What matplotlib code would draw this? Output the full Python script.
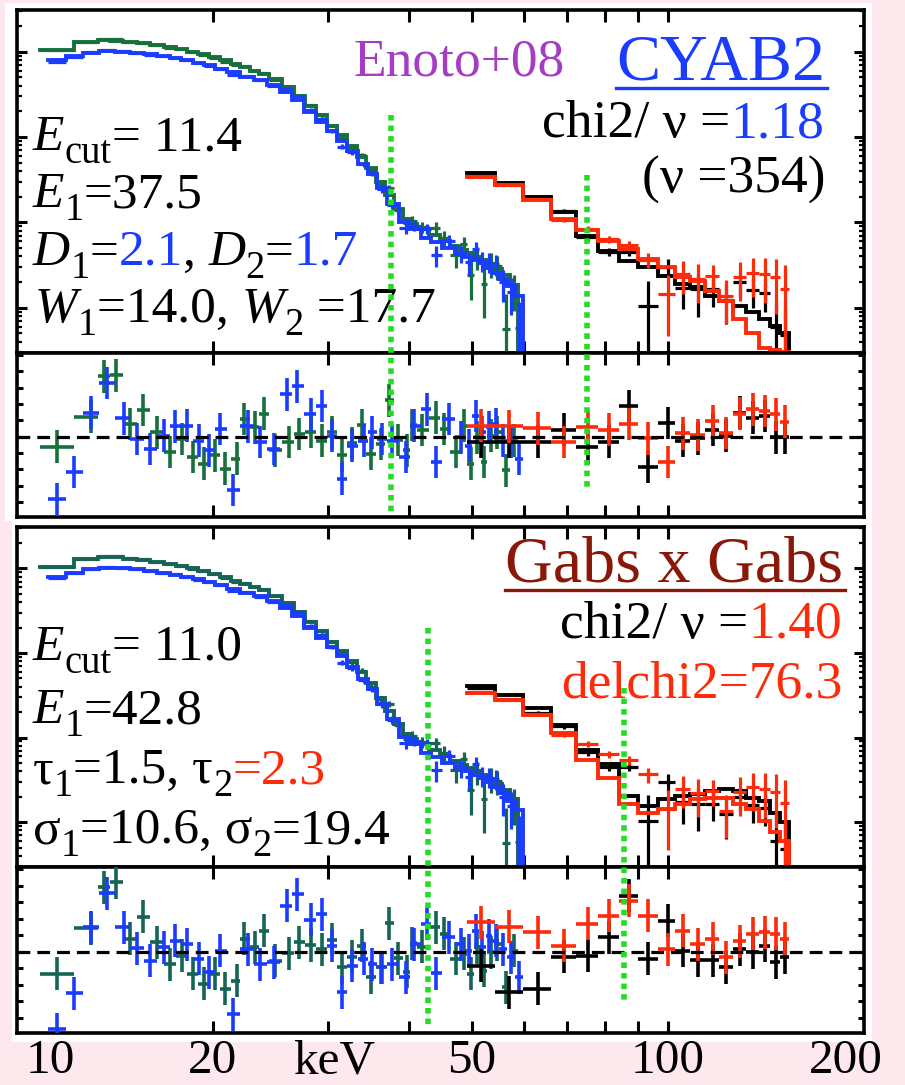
import numpy as np
import matplotlib
matplotlib.use("Agg")
import matplotlib.pyplot as plt
from matplotlib.lines import Line2D
from matplotlib.patches import Rectangle
from matplotlib.ticker import FixedLocator, NullLocator, NullFormatter, LogLocator, MultipleLocator
import matplotlib.transforms as mtransforms

plt.rcParams['font.family'] = ['Liberation Serif', 'DejaVu Serif']

# ---------------- data (energies in keV, model values as log10 counts) ----------------
pin_blue_E = [11.51, 12.25, 13.00, 13.74, 14.58, 15.28, 16.02, 16.80, 17.51, 18.24,
              19.01, 19.74, 20.53, 21.47, 22.62, 23.60, 24.80, 26.00, 26.94, 28.24,
              29.43, 30.50, 31.59, 32.73, 34.10, 35.13, 36.40, 37.71, 39.54, 40.72,
              42.68, 43.96, 46.08, 48.03, 49.47, 50.66, 51.88, 53.11, 54.38, 55.69,
              57.35, 59.06]
pin_blue_model = [0.90, 0.95, 0.99, 1.005, 1.00, 0.99, 0.97, 0.95, 0.925, 0.90,
                  0.87, 0.84, 0.80, 0.76, 0.71, 0.67, 0.61, 0.53, 0.44, 0.30,
                  0.18, 0.07, -0.04, -0.16, -0.31, -0.43, -0.60, -0.78, -0.99, -1.08,
                  -1.18, -1.23, -1.30, -1.36, -1.40, -1.44, -1.48, -1.53, -1.59, -1.66,
                  -1.75, -1.86]
pin_blue_ferr = [0.010, 0.010, 0.010, 0.010, 0.011, 0.011, 0.012, 0.012, 0.013, 0.014,
                 0.015, 0.016, 0.017, 0.019, 0.021, 0.023, 0.026, 0.030, 0.034, 0.040,
                 0.046, 0.052, 0.060, 0.068, 0.076, 0.085, 0.095, 0.11, 0.13, 0.15,
                 0.17, 0.19, 0.21, 0.23, 0.25, 0.27, 0.29, 0.31, 0.34, 0.37,
                 0.40, 0.43]
res_top_blue = [-3.84, -2.16, 1.47, 3.29, 1.13, -0.14, -0.75, 0.06, 0.63, 0.67,
                -0.24, -0.85, 0.46, -3.27, 0.63, -0.34, -0.75, 2.59, 3.09, 1.37,
                1.88, 0.06, -2.57, -0.55, -0.24, 0.26, -0.14, -0.24, -1.25, 0.67,
                1.68, -1.56, 1.07, -0.04, -0.55, 1.27, 0.26, 0.57, 0.77, -0.24,
                -0.34, -1.35]
res_bot_blue = [-4.69, -2.53, 1.47, 3.54, 1.47, 0.20, -0.55, 0.26, 0.67, 0.46,
                -0.44, -1.25, 0.06, -3.78, 0.16, -0.75, -0.65, 2.79, 3.49, 1.92,
                2.28, 0.36, -2.46, -0.85, -0.44, -0.75, -0.95, -0.75, -1.56, 0.46,
                1.68, -1.31, 0.87, 0.46, 0.06, 1.27, 0.26, 0.97, 0.67, 0.16,
                -0.34, -1.56]

pin_green_E = [11.51, 13.00, 13.62, 14.20, 14.93, 15.64, 16.40, 17.20, 17.92, 18.63,
               19.35, 20.12, 20.89, 21.78, 22.30, 23.23, 23.92, 24.94, 26.15, 27.09,
               28.24, 29.43, 30.50, 31.59, 32.73, 33.90, 34.92, 36.18, 37.26, 38.50,
               39.78, 40.49, 41.90, 43.96, 45.27, 47.19, 48.60, 49.77, 50.96, 52.18,
               53.42, 54.70, 56.33, 58.02]
pin_green_model = [1.02, 1.11, 1.133, 1.13, 1.115, 1.10, 1.08, 1.055, 1.03, 1.00,
                   0.975, 0.94, 0.90, 0.855, 0.82, 0.775, 0.74, 0.68, 0.59, 0.48,
                   0.37, 0.26, 0.13, 0.02, -0.10, -0.23, -0.36, -0.53, -0.68, -0.84,
                   -0.96, -1.02, -1.08, -1.15, -1.22, -1.28, -1.32, -1.36, -1.40, -1.44,
                   -1.49, -1.55, -1.62, -1.73]
pin_green_ferr = [0.010, 0.010, 0.010, 0.010, 0.011, 0.011, 0.012, 0.012, 0.013, 0.014,
                  0.015, 0.016, 0.017, 0.019, 0.020, 0.022, 0.024, 0.027, 0.031, 0.035,
                  0.040, 0.045, 0.050, 0.056, 0.063, 0.070, 0.077, 0.086, 0.095, 0.11,
                  0.13, 0.14, 0.16, 0.19, 0.21, 0.23, 0.25, 0.27, 0.29, 0.31,
                  0.33, 0.35, 0.37, 0.41]
res_top_green = [-0.61, 1.23, 3.70, 3.76, 0.77, 1.64, 0.26, -0.95, -0.14, -1.25,
                 -1.66, -1.15, -1.96, -1.35, 1.07, 0.57, 1.41, -0.85, -0.34, 0.16,
                 0.30, -0.24, 0.26, -1.15, -0.40, 0.71, -1.05, -0.44, 2.22, -0.20,
                 -0.85, 0.71, 0.40, 1.17, 0.46, -0.95, 0.67, -1.66, -0.04, -1.56,
                 0.06, 0.26, -2.06, -0.24]
res_bot_green = [-1.35, 1.43, 3.90, 4.20, 0.77, 2.12, 0.57, -0.75, -0.24, -1.35,
                 -1.96, -1.35, -2.26, -1.76, 0.77, 0.26, 1.27, -0.55, -0.10, 0.57,
                 0.40, 0.16, 0.71, -0.95, -0.30, 0.36, -1.56, -0.95, 1.72, -0.40,
                 -1.21, 0.51, 0.30, 1.47, 1.07, -0.44, -0.14, -1.35, 0.26, -1.15,
                 -0.04, 0.46, -2.16, 0.06]

gso_E = [51.57, 57.00, 63.03, 69.26, 75.22, 81.24, 87.18, 93.07, 99.90, 105.3,
         111.1, 117.2, 122.8, 128.8, 135.0, 140.7, 146.6, 151.0]
gso_black_model_top = [-0.416, -0.537, -0.702, -0.878, -1.153, -1.329, -1.447, -1.525, -1.624, -1.722,
                       -1.761, -1.859, -1.918, -1.976, -2.055, -2.133, -2.21, -2.30]
gso_red_model_top = [-0.467, -0.565, -0.733, -0.957, -1.094, -1.212, -1.31, -1.427, -1.525, -1.644,
                     -1.682, -1.80, -1.918, -2.133, -2.29, -2.467, -2.50, -2.52]
gso_black_model_bot = [-0.385, -0.494, -0.651, -0.847, -1.141, -1.318, -1.69, -1.81, -1.73, -1.69,
                       -1.67, -1.63, -1.61, -1.63, -1.71, -1.75, -1.89, -2.00]
gso_red_model_bot = [-0.467, -0.553, -0.729, -0.945, -1.259, -1.475, -1.788, -1.886, -1.847, -1.788,
                     -1.729, -1.71, -1.71, -1.788, -1.847, -1.984, -2.12, -2.22]
gso_black_ferr = [0.02, 0.03, 0.04, 0.06, 0.08, 0.11, 0.14, 0.35, 0.30, 0.40,
                  0.50, 0.45, 0.50, 0.60, 0.70, 0.80, 0.90, 1.00]
gso_red_ferr = [0.02, 0.03, 0.04, 0.06, 0.08, 0.10, 0.13, 0.20, 0.33, 0.45,
                0.50, 0.50, 0.60, 1.5, 2.4, 4.0, 4.5, 5.0]
res_top_black = [-0.30, -0.30, -0.30, 0.42, -0.65, -0.30, 1.88, -1.86, 0.83, -0.24,
                 -0.10, 0.42, 0.06, 1.47, 1.17, 1.27, -0.04, -0.04]
res_top_red = [0.67, 0.63, 0.51, -0.34, 0.57, 0.42, 0.77, -0.10, -1.56, 0.20,
               0.10, 0.97, 0.22, 1.41, 1.68, 1.58, 1.37, 0.91]
res_bot_black = [-0.85, -2.46, -2.26, -0.30, -0.24, 0.87, 3.39, -0.44, 1.88, 0.06,
                 -0.51, -0.51, -0.95, 0.16, -0.04, 0.36, -0.65, -0.34]
res_bot_red = [1.78, 1.52, 1.17, 0.36, 1.68, 2.18, 3.09, 2.18, 0.16, 1.27,
               0.46, 0.77, -0.34, 0.63, 1.07, 1.17, 1.07, 0.77]

line_E_top = [37.5, 75.0]      # E1 and 2*E1, CYAB2 fit
line_E_bot = [42.8, 85.6]      # E1 and 2*E1, Gabs x Gabs fit

tick_vals = [20, 30, 40, 50, 60, 70, 80, 90, 100]
tick_labels = ["10", "20", "keV", "50", "100", "200"]

# ---------------- layout / style ----------------
W, H = 905, 1085
PINK = '#fde9ed'
C_GREEN_T = '#17703c'
C_GREEN_B = '#156456'
C_BLUE = '#1a3cff'
C_RED = '#ff2a0a'
C_BLACK = 'black'
C_DOT = '#22dd22'
C_PURPLE = '#a43cc4'
C_DARKRED = '#8a1808'
YLIM_SPEC = (10 ** -2.53, 10 ** 1.49)
YLIM_RES = (-4.93, 5.13)

fig = plt.figure(figsize=(W / 100, H / 100), dpi=100)
fig.patch.set_facecolor(PINK)


def fx(x):
    return x / W


def fy(y):
    return 1 - y / H


def rect(x0, y0, x1, y1):
    fig.add_artist(Rectangle((fx(x0), fy(y1)), fx(x1) - fx(x0), fy(y0) - fy(y1),
                             transform=fig.transFigure, facecolor='white',
                             edgecolor='none', zorder=-5))


rect(5, 3, 872, 521)
rect(12, 521, 872, 1042)


def add_axes(x0, y0, x1, y1):
    return fig.add_axes([fx(x0), fy(y1), fx(x1) - fx(x0), fy(y0) - fy(y1)])


ax_s1 = add_axes(17, 10, 864, 353)
ax_r1 = add_axes(17, 353, 864, 517)
ax_s2 = add_axes(17, 527, 864, 867)
ax_r2 = add_axes(17, 867, 864, 1033)

for ax in (ax_s1, ax_r1, ax_s2, ax_r2):
    ax.set_facecolor('white')
    ax.set_xscale('log')
    ax.set_xlim(10, 200)
    ax.xaxis.set_major_locator(FixedLocator(tick_vals))
    ax.xaxis.set_minor_locator(NullLocator())
    ax.xaxis.set_major_formatter(NullFormatter())
    ax.tick_params(axis='x', which='major', direction='in', top=True, bottom=True,
                   length=8.5, width=2.2, labelbottom=False)
    for sp in ax.spines.values():
        sp.set_linewidth(2.6)

for ax in (ax_s1, ax_s2):
    ax.set_yscale('log')
    ax.set_ylim(*YLIM_SPEC)
    ax.yaxis.set_major_locator(LogLocator(base=10, numticks=20))
    ax.yaxis.set_minor_locator(LogLocator(base=10, subs=np.arange(2, 10), numticks=20))
    ax.yaxis.set_major_formatter(NullFormatter())
    ax.yaxis.set_minor_formatter(NullFormatter())
    ax.tick_params(axis='y', which='major', direction='in', left=True, right=True,
                   length=7.5, width=2.2)
    ax.tick_params(axis='y', which='minor', direction='in', left=True, right=True,
                   length=3.8, width=1.6)

for ax in (ax_r1, ax_r2):
    ax.set_ylim(*YLIM_RES)
    ax.yaxis.set_major_locator(MultipleLocator(1))
    ax.yaxis.set_major_formatter(NullFormatter())
    ax.tick_params(axis='y', which='major', direction='in', left=True, right=True,
                   length=4.5, width=2.2)
    ax.axhline(0, color='black', lw=2.3, ls=(0, (4, 2.2)), zorder=8)


def log_edges(E):
    c = np.asarray(E, float)
    mid = np.sqrt(c[:-1] * c[1:])
    return np.concatenate([[c[0] ** 2 / mid[0]], mid, [c[-1] ** 2 / mid[-1]]])


def model_steps(ax, E, mlog, color, z, drop=False):
    edges = log_edges(E)
    m = 10.0 ** np.asarray(mlog)
    xs = np.repeat(edges, 2)[1:-1]
    ys = np.repeat(m, 2)
    if drop:
        xs = np.append(xs, edges[-1])
        ys = np.append(ys, YLIM_SPEC[0] * 0.3)
    ax.plot(xs, ys, color=color, lw=2.8, zorder=z, solid_joinstyle='miter')


def spectrum_points(E, mlog_ref, res_ref, ferr):
    m = 10.0 ** np.asarray(mlog_ref)
    f = np.asarray(ferr)
    data = m * (1 + np.asarray(res_ref) * f)
    sig = m * f
    lo = np.maximum(data - sig, YLIM_SPEC[0] * 0.1)
    hi = data + sig
    return data, lo, hi


def data_crosses(ax, E, data, lo, hi, color, z, lw=2.3):
    E = np.asarray(E, float)
    edges = log_edges(E)
    ax.errorbar(E, data, xerr=[E - edges[:-1], edges[1:] - E],
                yerr=[data - lo, hi - data], fmt='none', ecolor=color,
                elinewidth=lw, capsize=0, zorder=z)


def res_crosses(ax, E, r, color, z):
    E = np.asarray(E, float)
    edges = log_edges(E)
    ax.errorbar(E, r, xerr=[E - edges[:-1], edges[1:] - E], yerr=1.0,
                fmt='none', ecolor=color, elinewidth=2.6, capsize=0, zorder=z)


# shared data points (same observation in both fits)
g_d = spectrum_points(pin_green_E, pin_green_model, res_top_green, pin_green_ferr)
b_d = spectrum_points(pin_blue_E, pin_blue_model, res_top_blue, pin_blue_ferr)
k_d = spectrum_points(gso_E, gso_black_model_top, res_top_black, gso_black_ferr)
r_d = spectrum_points(gso_E, gso_red_model_top, res_top_red, gso_red_ferr)

panels = [
    (ax_s1, ax_r1, C_GREEN_T, gso_black_model_top, gso_red_model_top,
     res_top_green, res_top_blue, res_top_black, res_top_red),
    (ax_s2, ax_r2, C_GREEN_B, gso_black_model_bot, gso_red_model_bot,
     res_bot_green, res_bot_blue, res_bot_black, res_bot_red),
]
for ax_s, ax_r, cg, kmod, rmod, rg, rb, rk, rr in panels:
    model_steps(ax_s, pin_green_E, pin_green_model, cg, 3, drop=True)
    data_crosses(ax_s, pin_green_E, *g_d, cg, 3)
    model_steps(ax_s, pin_blue_E, pin_blue_model, C_BLUE, 4, drop=True)
    data_crosses(ax_s, pin_blue_E, *b_d, C_BLUE, 4)
    model_steps(ax_s, gso_E, kmod, C_BLACK, 5, drop=True)
    data_crosses(ax_s, gso_E, *k_d, C_BLACK, 5)
    model_steps(ax_s, gso_E, rmod, C_RED, 6, drop=True)
    data_crosses(ax_s, gso_E, *r_d, C_RED, 6)
    res_crosses(ax_r, pin_green_E, rg, cg, 3)
    res_crosses(ax_r, pin_blue_E, rb, C_BLUE, 4)
    res_crosses(ax_r, gso_E, rk, C_BLACK, 5)
    res_crosses(ax_r, gso_E, rr, C_RED, 6)

# vertical dotted lines at E1, 2E1 spanning spectrum + residual panels
blend = mtransforms.blended_transform_factory(ax_s1.transData, fig.transFigure)
for e, (y0, y1) in zip(line_E_top, [(115, 512), (175, 490)]):
    fig.add_artist(Line2D([e, e], [fy(y0), fy(y1)], transform=blend, color=C_DOT,
                          lw=4.0, ls=(0, (1, 0.9)), zorder=40))
for e, (y0, y1) in zip(line_E_bot, [(628, 1025), (688, 1003)]):
    fig.add_artist(Line2D([e, e], [fy(y0), fy(y1)], transform=blend, color=C_DOT,
                          lw=4.0, ls=(0, (1, 0.9)), zorder=40))

# ---------------- texts ----------------
renderer = fig.canvas.get_renderer()


def rich(pieces, x, y, size, ha='left'):
    """pieces: (text, color, kind) with kind 'n' normal, 'i' italic, 's' subscript."""
    cx = x
    seq = pieces if ha == 'left' else list(reversed(pieces))
    for s, c, kind in seq:
        fs = size * (0.75 if kind == 's' else 1.0)
        yy = y + (0.36 * size if kind == 's' else 0.0)
        style = 'italic' if kind == 'i' else 'normal'
        t = fig.text(fx(cx), fy(yy), s, color=c, fontsize=fs, fontstyle=style,
                     ha=ha, va='baseline', zorder=30)
        bb = t.get_window_extent(renderer)
        cx = bb.x1 if ha == 'left' else bb.x0


def underlined_title(s, x_right, y, y_line, color, size):
    t = fig.text(fx(x_right), fy(y), s, color=color, fontsize=size, ha='right',
                 va='baseline', zorder=30)
    bb = t.get_window_extent(renderer)
    fig.add_artist(Line2D([fx(bb.x0), fx(bb.x1 + 2)], [fy(y_line), fy(y_line)],
                          transform=fig.transFigure, color=color, lw=2.4, zorder=30))


K = C_BLACK
PS = 37
CS = 38.5
TS = 47.5

# top panel
fig.text(fx(353), fy(75), "Enoto+08", color=C_PURPLE, fontsize=CS, ha='left', va='baseline', zorder=30)
underlined_title("CYAB2", 825, 80, 88, C_BLUE, TS)
rich([("chi2/ \u03bd =", K, 'n'), ("1.18", C_BLUE, 'n')], 824, 137, CS, ha='right')
rich([("(\u03bd =354)", K, 'n')], 825, 193, CS, ha='right')
rich([("E", K, 'i'), ("cut", K, 's'), ("= 11.4", K, 'n')], 33, 150, PS)
rich([("E", K, 'i'), ("1", K, 's'), ("=37.5", K, 'n')], 33, 207, PS)
rich([("D", K, 'i'), ("1", K, 's'), ("=", K, 'n'), ("2.1", C_BLUE, 'n'), (", ", K, 'n'),
      ("D", K, 'i'), ("2", K, 's'), ("=", K, 'n'), ("1.7", C_BLUE, 'n')], 33, 265, PS)
rich([("W", K, 'i'), ("1", K, 's'), ("=14.0, ", K, 'n'), ("W", K, 'i'), ("2", K, 's'),
      (" =17.7", K, 'n')], 35, 322, PS)

# bottom panel
underlined_title("Gabs x Gabs", 843, 582, 590, C_DARKRED, TS)
rich([("chi2/ \u03bd =", K, 'n'), ("1.40", C_RED, 'n')], 842, 638, CS, ha='right')
rich([("delchi2=76.3", C_RED, 'n')], 842, 698, CS, ha='right')
rich([("E", K, 'i'), ("cut", K, 's'), ("= 11.0", K, 'n')], 33, 660, PS)
rich([("E", K, 'i'), ("1", K, 's'), ("=42.8", K, 'n')], 33, 723, PS)
rich([("\u03c4", K, 'n'), ("1", K, 's'), ("=1.5, \u03c4", K, 'n'), ("2", K, 's'),
      ("=2.3", C_RED, 'n')], 33, 783, PS)
rich([("\u03c3", K, 'n'), ("1", K, 's'), ("=10.6, \u03c3", K, 'n'), ("2", K, 's'),
      ("=19.4", K, 'n')], 33, 843, PS)

# energy axis labels below the lower residual panel
label_pos = [11.24, 20.0, 30.74, 50.0, 100.0, 187.5]
blend2 = mtransforms.blended_transform_factory(ax_r2.transData, fig.transFigure)
for xv, lab in zip(label_pos, tick_labels):
    fig.text(xv, fy(1073), lab, transform=blend2, ha='center', va='baseline',
             fontsize=35.5, color='black', zorder=30)

fig.savefig("out.png", dpi=100, facecolor=fig.get_facecolor())
